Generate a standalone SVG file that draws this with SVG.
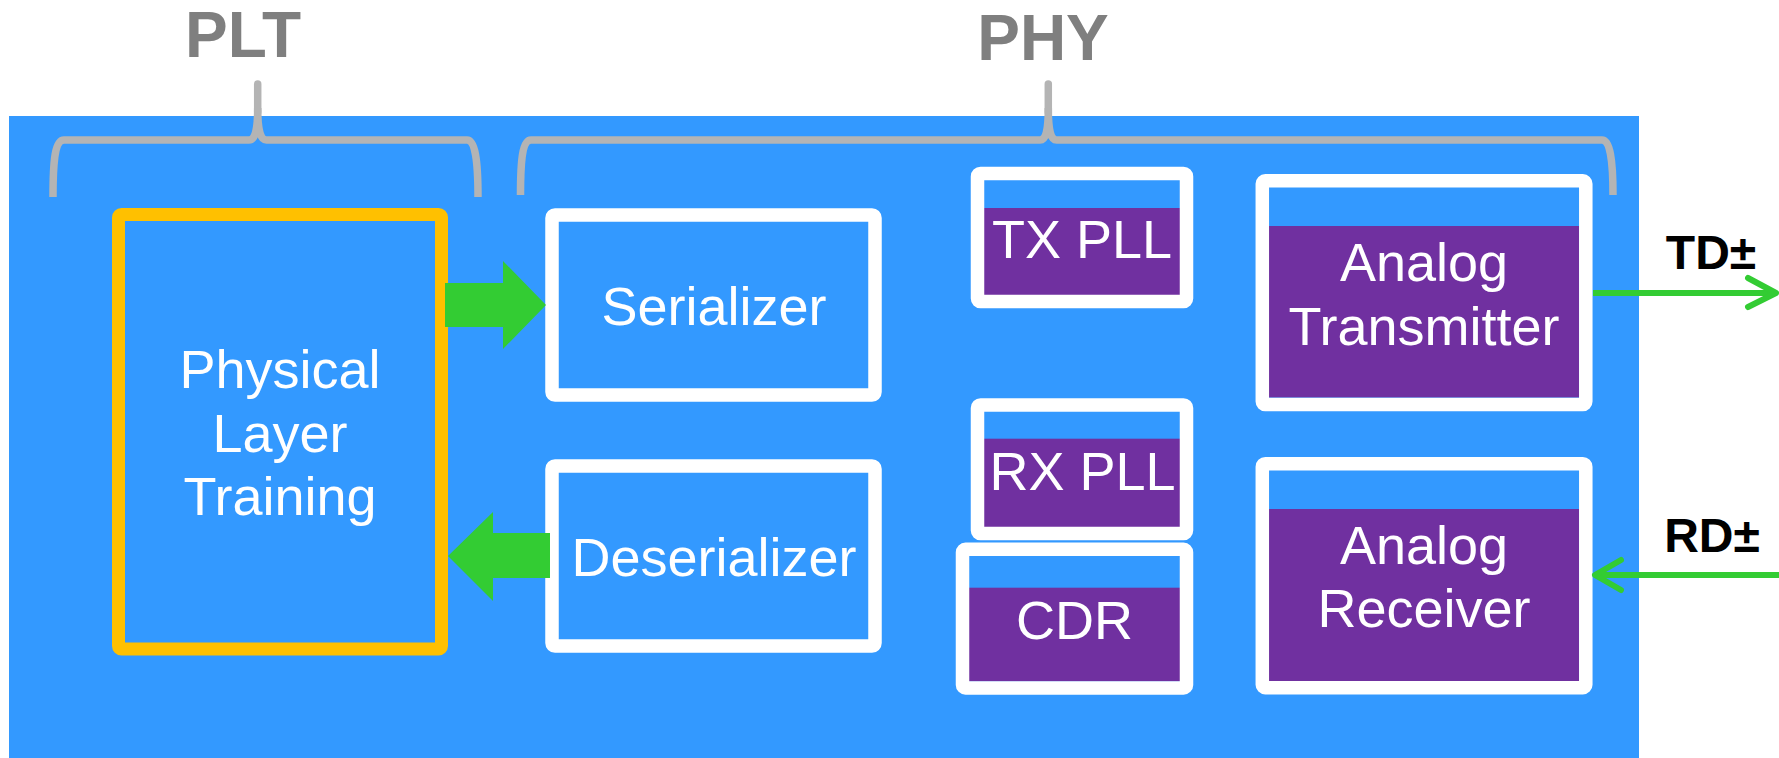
<svg xmlns="http://www.w3.org/2000/svg" width="1779" height="758" viewBox="0 0 1779 758">
<style>
.lbl{font-family:"Liberation Sans",Arial,sans-serif;font-size:54px;fill:#fff;text-anchor:middle}
.hdr{font-family:"Liberation Sans",Arial,sans-serif;font-weight:bold;font-size:64px;fill:#7f7f7f;text-anchor:middle}
.sig{font-family:"Liberation Sans",Arial,sans-serif;font-weight:bold;font-size:48px;fill:#000;text-anchor:middle}
.frame{fill:none;stroke:#fff;stroke-width:13.5}
.purp{fill:#7030a0}
.brace{fill:none;stroke:#b4b4b4;stroke-width:7.5;stroke-linejoin:round}
.blk{fill:#33cc33}
.wire{fill:none;stroke:#33cc33;stroke-width:6;stroke-linecap:round;stroke-linejoin:round}
</style>
<rect id="background" x="9" y="116" width="1630" height="642" fill="#3399ff"/>

<g id="plt-header">
<text class="hdr" x="243" y="57">PLT</text>
<path class="brace" d="M53,197 C53,160 55,140 64,140 H249 C255,140 257.7,130 257.7,108 M257.7,108 C257.7,130 260.4,140 266.4,140 H467 C475,140 478,160 478,197"/>
<line x1="257.7" y1="84" x2="257.7" y2="112" stroke="#b4b4b4" stroke-width="7.5" stroke-linecap="round"/>
</g>

<g id="phy-header">
<text class="hdr" x="1043" y="60">PHY</text>
<path class="brace" d="M520.5,195 C520.5,160 522.5,140 531,140 H1040 C1046,140 1048.3,130 1048.3,108 M1048.3,108 C1048.3,130 1050.6,140 1056.6,140 H1602 C1610,140 1613,160 1613,195"/>
<line x1="1048.3" y1="84" x2="1048.3" y2="112" stroke="#b4b4b4" stroke-width="7.5" stroke-linecap="round"/>
</g>

<g id="plt">
<rect x="118.5" y="214.5" width="323" height="434.5" rx="3" fill="none" stroke="#ffc000" stroke-width="13"/>
<text class="lbl" x="280" y="388">Physical</text>
<text class="lbl" x="280" y="452">Layer</text>
<text class="lbl" x="280" y="515">Training</text>
</g>

<g id="serializer">
<rect class="frame" x="552" y="215" width="323" height="180" rx="3"/>
<text class="lbl" x="714" y="325">Serializer</text>
</g>

<g id="deserializer">
<rect class="frame" x="552" y="466" width="323" height="180" rx="3"/>
<text class="lbl" x="714" y="576">Deserializer</text>
</g>

<g id="tx-pll">
<rect class="purp" x="984" y="208" width="196" height="87"/>
<rect class="frame" x="977.5" y="173.5" width="209" height="128" rx="3"/>
<text class="lbl" x="1082" y="258">TX PLL</text>
</g>

<g id="rx-pll">
<rect class="purp" x="984" y="438.7" width="196" height="88.3"/>
<rect class="frame" x="977.5" y="405" width="209" height="128.5" rx="3"/>
<text class="lbl" x="1082.5" y="489.5">RX PLL</text>
</g>

<g id="cdr">
<rect class="purp" x="969" y="587.7" width="211" height="93.7"/>
<rect class="frame" x="962.5" y="549.3" width="224" height="138.6" rx="3"/>
<text class="lbl" x="1074.5" y="639.3">CDR</text>
</g>

<g id="analog-transmitter">
<rect class="purp" x="1269" y="226" width="310" height="171.5"/>
<rect class="frame" x="1262.3" y="180.8" width="323.5" height="223.7" rx="3"/>
<text class="lbl" x="1424" y="281.4">Analog</text>
<text class="lbl" x="1424" y="345">Transmitter</text>
</g>

<g id="analog-receiver">
<rect class="purp" x="1269" y="509" width="310" height="172.4"/>
<rect class="frame" x="1262.3" y="463.7" width="323.5" height="224" rx="3"/>
<text class="lbl" x="1424" y="563.6">Analog</text>
<text class="lbl" x="1424" y="627">Receiver</text>
</g>

<g id="connectors">
<polygon class="blk" points="445,283 503,283 503,261 546,305 503,349 503,327 445,327"/>
<polygon class="blk" points="550,533 493,533 493,512 448,556 493,601 493,578 550,578"/>
<line class="wire" x1="1593" y1="293" x2="1775" y2="293" style="stroke-linecap:butt"/>
<polyline class="wire" points="1748,278 1776,293 1748,307"/>
<line class="wire" x1="1779" y1="575" x2="1596" y2="575" style="stroke-linecap:butt"/>
<polyline class="wire" points="1621,560 1595,575 1621,590"/>
<text class="sig" x="1711" y="269">TD±</text>
<text class="sig" x="1712" y="552">RD±</text>
</g>
</svg>
